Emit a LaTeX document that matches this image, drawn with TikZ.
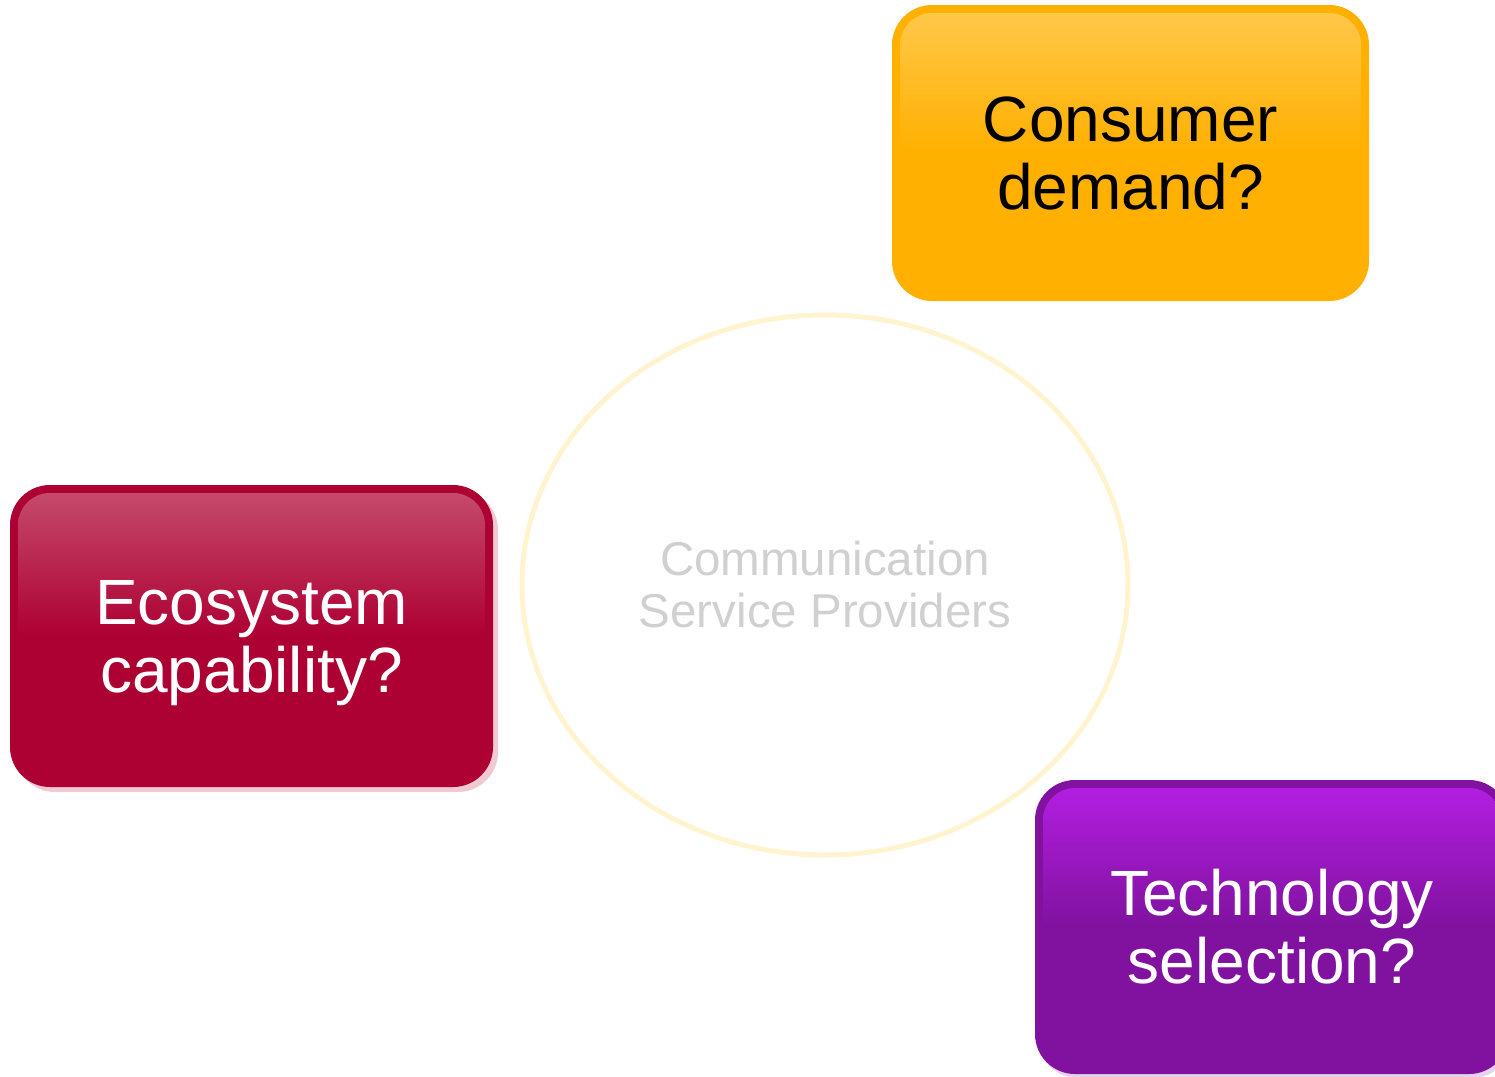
\documentclass[tikz,border=0pt]{standalone}
\usepackage{fontspec}
\setmainfont{Liberation Sans}
\usetikzlibrary{shapes.geometric,shadows}

\definecolor{consumerbase}{HTML}{FFB000}
\definecolor{consumertop}{HTML}{FFC84C}
\definecolor{ecobase}{HTML}{AD0033}
\definecolor{ecotop}{HTML}{C64E6E}
\definecolor{ecoshadow}{HTML}{F0C9D3}
\definecolor{techbase}{HTML}{80129F}
\definecolor{techtop}{HTML}{B51FE4}
\definecolor{techshadow}{HTML}{E6D3EE}
\definecolor{ringline}{HTML}{FFF4CF}
\definecolor{cspgrey}{HTML}{D0D0D0}

\tikzset{
  % rounded box with a darker rim and a glossy inner panel
  glossy/.style 2 args={
    rounded corners=40pt, fill=#1, draw=none, inner sep=0pt,
    align=center, font=\fontsize{64}{68}\selectfont,
    path picture={
      \shade[top color=#2, bottom color=#1, middle color=#1, rounded corners=32pt]
        ([shift={(8pt,-8pt)}]path picture bounding box.north west) rectangle
        ([shift={(-8pt,8pt)}]path picture bounding box.south east);
    }
  },
  ring/.style={
    ellipse, draw=ringline, line width=5pt, inner sep=0pt,
    minimum width=606pt, minimum height=540pt,
    align=center, text=cspgrey, font=\fontsize{47.5}{52}\selectfont
  }
}

\begin{document}
\begin{tikzpicture}[x=1pt, y=-1pt]
  \clip (0,0) rectangle (1495,1076);

  % central circle
  \node[ring] (csp) at (825,585) {Communication\\Service Providers};

  % the three question boxes
  \node[glossy={consumerbase}{consumertop}, minimum width=477pt, minimum height=296pt,
        text=black] (consumer) at (1130.5,153) {Consumer\\demand?};

  \node[glossy={ecobase}{ecotop}, minimum width=483pt, minimum height=302pt,
        text=white, text depth=0pt,
        drop shadow={shadow xshift=5pt, shadow yshift=-5pt, fill=ecoshadow, opacity=1}]
        (eco) at (251.5,636) {Ecosystem\\capability?};

  \node[glossy={techbase}{techtop}, minimum width=474pt, minimum height=294pt,
        text=white,
        drop shadow={shadow xshift=3pt, shadow yshift=-4pt, fill=techshadow, opacity=1}]
        (tech) at (1272,927) {Technology\\selection?};
\end{tikzpicture}
\end{document}
